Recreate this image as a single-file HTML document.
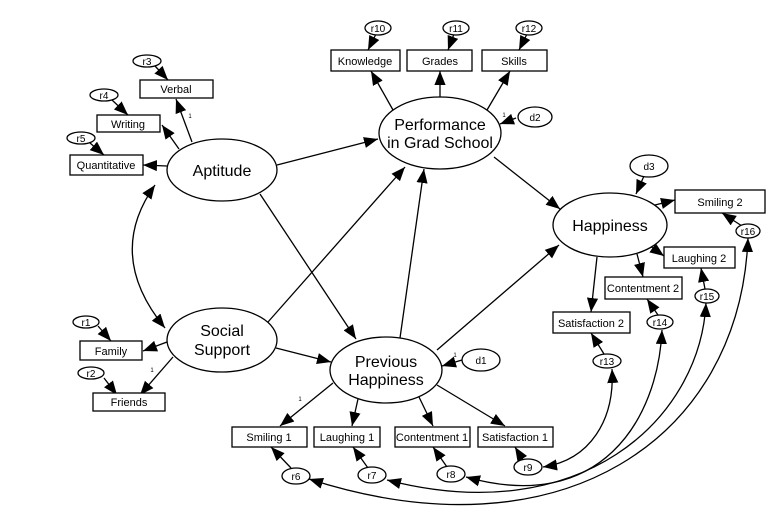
<!DOCTYPE html>
<html><head><meta charset="utf-8"><style>
html,body{margin:0;padding:0;background:#fff;}
svg{display:block;}
text{font-family:"Liberation Sans",Arial,sans-serif;fill:#000;}
.big{font-size:16px;}
.sm{font-size:11px;}
.xs{font-size:10px;}
.t{font-size:6px;}
</style></head><body>
<svg width="778" height="529" viewBox="0 0 778 529" xmlns="http://www.w3.org/2000/svg">
<defs>
<marker id="a" viewBox="0 0 10 10" refX="10" refY="5" markerWidth="14" markerHeight="14" markerUnits="userSpaceOnUse" orient="auto-start-reverse">
<path d="M0,1 L10,5 L0,9 z" fill="#000"/></marker>
</defs>
<g stroke="#000" stroke-width="1.3" fill="none">
<line x1="277" y1="165" x2="378" y2="139" marker-end="url(#a)"/>
<line x1="260" y1="194" x2="356" y2="339" marker-end="url(#a)"/>
<line x1="268" y1="322" x2="405" y2="167" marker-end="url(#a)"/>
<line x1="276" y1="348" x2="331" y2="362" marker-end="url(#a)"/>
<line x1="400" y1="338" x2="424" y2="169" marker-end="url(#a)"/>
<line x1="437" y1="350" x2="559" y2="245" marker-end="url(#a)"/>
<line x1="494" y1="157" x2="560" y2="209" marker-end="url(#a)"/>
<path d="M155,185 Q105,255 165,328" marker-start="url(#a)" marker-end="url(#a)"/>
<line x1="192" y1="142" x2="176" y2="99" marker-end="url(#a)"/>
<line x1="179" y1="149" x2="162" y2="125" marker-end="url(#a)"/>
<line x1="167" y1="166" x2="143" y2="165" marker-end="url(#a)"/>
<line x1="167" y1="342" x2="143" y2="351" marker-end="url(#a)"/>
<line x1="173" y1="357" x2="140" y2="395" marker-end="url(#a)"/>
<line x1="393" y1="110" x2="371" y2="71" marker-end="url(#a)"/>
<line x1="440" y1="97" x2="440" y2="71" marker-end="url(#a)"/>
<line x1="487" y1="110" x2="510" y2="71" marker-end="url(#a)"/>
<line x1="655" y1="205" x2="675" y2="200" marker-end="url(#a)"/>
<line x1="650" y1="246" x2="664" y2="256" marker-end="url(#a)"/>
<line x1="637" y1="254" x2="643" y2="277" marker-end="url(#a)"/>
<line x1="597" y1="257" x2="591" y2="312" marker-end="url(#a)"/>
<line x1="333" y1="383" x2="280" y2="426" marker-end="url(#a)"/>
<line x1="358" y1="399" x2="352" y2="426" marker-end="url(#a)"/>
<line x1="419" y1="397" x2="433" y2="426" marker-end="url(#a)"/>
<line x1="437" y1="385" x2="505" y2="426" marker-end="url(#a)"/>
<line x1="516" y1="118" x2="500" y2="124" marker-end="url(#a)"/>
<line x1="644" y1="176" x2="636" y2="194" marker-end="url(#a)"/>
<line x1="462" y1="360" x2="442" y2="366" marker-end="url(#a)"/>
<line x1="155" y1="66" x2="168" y2="80" marker-end="url(#a)"/>
<line x1="112" y1="100" x2="128" y2="115" marker-end="url(#a)"/>
<line x1="90" y1="143" x2="104" y2="155" marker-end="url(#a)"/>
<line x1="98" y1="326" x2="111" y2="341" marker-end="url(#a)"/>
<line x1="104" y1="378" x2="117" y2="395" marker-end="url(#a)"/>
<line x1="376" y1="34" x2="368" y2="50" marker-end="url(#a)"/>
<line x1="454" y1="34" x2="448" y2="50" marker-end="url(#a)"/>
<line x1="527" y1="34" x2="519" y2="50" marker-end="url(#a)"/>
<line x1="742" y1="226" x2="722" y2="213" marker-end="url(#a)"/>
<line x1="705" y1="289" x2="701" y2="268" marker-end="url(#a)"/>
<line x1="658" y1="315" x2="647" y2="299" marker-end="url(#a)"/>
<line x1="604" y1="354" x2="591" y2="333" marker-end="url(#a)"/>
<line x1="291" y1="468" x2="271" y2="447" marker-end="url(#a)"/>
<line x1="368" y1="468" x2="353" y2="447" marker-end="url(#a)"/>
<line x1="447" y1="467" x2="433" y2="447" marker-end="url(#a)"/>
<line x1="523" y1="460" x2="515" y2="447" marker-end="url(#a)"/>
<path d="M612,369 C615,420 590,460 543,467" marker-start="url(#a)" marker-end="url(#a)"/>
<path d="M662,330 C658,420 600,515 466,477" marker-start="url(#a)" marker-end="url(#a)"/>
<path d="M706,303 C700,420 580,530 387,480" marker-start="url(#a)" marker-end="url(#a)"/>
<path d="M748,238 C740,440 560,560 309,479" marker-start="url(#a)" marker-end="url(#a)"/>
</g>
<g stroke="#000" stroke-width="1.3" fill="#fff">
<ellipse cx="222" cy="170" rx="55" ry="31"/>
<ellipse cx="222" cy="340" rx="55" ry="32"/>
<ellipse cx="440" cy="133" rx="61" ry="36"/>
<ellipse cx="610" cy="225" rx="57" ry="32"/>
<ellipse cx="386" cy="370" rx="56" ry="33"/>
<ellipse cx="535" cy="117" rx="17" ry="10"/>
<ellipse cx="649" cy="166" rx="19" ry="11"/>
<ellipse cx="481" cy="360" rx="19" ry="11"/>
<ellipse cx="147" cy="61" rx="14" ry="6"/>
<ellipse cx="104" cy="95" rx="14" ry="6"/>
<ellipse cx="81" cy="138" rx="14" ry="6"/>
<ellipse cx="86" cy="322" rx="13" ry="6"/>
<ellipse cx="91" cy="373" rx="13" ry="6"/>
<ellipse cx="378" cy="28" rx="13" ry="7"/>
<ellipse cx="456" cy="28" rx="13" ry="7"/>
<ellipse cx="529" cy="28" rx="13" ry="7"/>
<ellipse cx="748" cy="231" rx="12" ry="7"/>
<ellipse cx="707" cy="296" rx="12" ry="7"/>
<ellipse cx="660" cy="322" rx="13" ry="7"/>
<ellipse cx="607" cy="361" rx="14" ry="7"/>
<ellipse cx="296" cy="476" rx="14" ry="8"/>
<ellipse cx="372" cy="475" rx="14" ry="8"/>
<ellipse cx="451" cy="474" rx="14" ry="8"/>
<ellipse cx="528" cy="467" rx="14" ry="8"/>
</g>
<g stroke="#000" stroke-width="1.3" fill="#fff">
<rect x="140" y="80" width="73" height="18"/>
<rect x="97" y="115" width="63" height="17"/>
<rect x="70" y="155" width="73" height="20"/>
<rect x="80" y="341" width="62" height="19"/>
<rect x="93" y="393" width="72" height="18"/>
<rect x="331" y="50" width="69" height="21"/>
<rect x="407" y="50" width="65" height="21"/>
<rect x="482" y="50" width="65" height="21"/>
<rect x="675" y="190" width="90" height="23"/>
<rect x="664" y="247" width="71" height="21"/>
<rect x="605" y="277" width="77" height="22"/>
<rect x="553" y="312" width="77" height="21"/>
<rect x="232" y="427" width="75" height="20"/>
<rect x="314" y="427" width="66" height="20"/>
<rect x="395" y="427" width="75" height="20"/>
<rect x="478" y="427" width="75" height="20"/>
</g>
<g text-anchor="middle">
<text class="big" x="222" y="176">Aptitude</text>
<text class="big" x="222" y="336">Social</text>
<text class="big" x="222" y="355">Support</text>
<text class="big" x="440" y="130">Performance</text>
<text class="big" x="440" y="148">in Grad School</text>
<text class="big" x="610" y="231">Happiness</text>
<text class="big" x="386" y="367">Previous</text>
<text class="big" x="386" y="385">Happiness</text>
<text class="xs" x="535" y="121">d2</text>
<text class="xs" x="649" y="170">d3</text>
<text class="xs" x="481" y="364">d1</text>
<text class="xs" x="147" y="65">r3</text>
<text class="xs" x="104" y="99">r4</text>
<text class="xs" x="81" y="142">r5</text>
<text class="xs" x="86" y="326">r1</text>
<text class="xs" x="91" y="377">r2</text>
<text class="xs" x="378" y="32">r10</text>
<text class="xs" x="456" y="32">r11</text>
<text class="xs" x="529" y="32">r12</text>
<text class="xs" x="748" y="235">r16</text>
<text class="xs" x="707" y="300">r15</text>
<text class="xs" x="660" y="326">r14</text>
<text class="xs" x="607" y="365">r13</text>
<text class="xs" x="296" y="480">r6</text>
<text class="xs" x="372" y="479">r7</text>
<text class="xs" x="451" y="478">r8</text>
<text class="xs" x="528" y="471">r9</text>
<text class="sm" x="176" y="93">Verbal</text>
<text class="sm" x="128" y="128">Writing</text>
<text class="sm" x="106" y="169">Quantitative</text>
<text class="sm" x="111" y="355">Family</text>
<text class="sm" x="129" y="406">Friends</text>
<text class="sm" x="365" y="65">Knowledge</text>
<text class="sm" x="440" y="65">Grades</text>
<text class="sm" x="514" y="65">Skills</text>
<text class="sm" x="720" y="206">Smiling 2</text>
<text class="sm" x="699" y="262">Laughing 2</text>
<text class="sm" x="643" y="292">Contentment 2</text>
<text class="sm" x="591" y="327">Satisfaction 2</text>
<text class="sm" x="269" y="441">Smiling 1</text>
<text class="sm" x="347" y="441">Laughing 1</text>
<text class="sm" x="432" y="441">Contentment 1</text>
<text class="sm" x="515" y="441">Satisfaction 1</text>
<text class="t" x="190" y="118">1</text>
<text class="t" x="504" y="117">1</text>
<text class="t" x="455" y="357">1</text>
<text class="t" x="300" y="401">1</text>
<text class="t" x="152" y="372">1</text>
</g>
</svg>
</body></html>
